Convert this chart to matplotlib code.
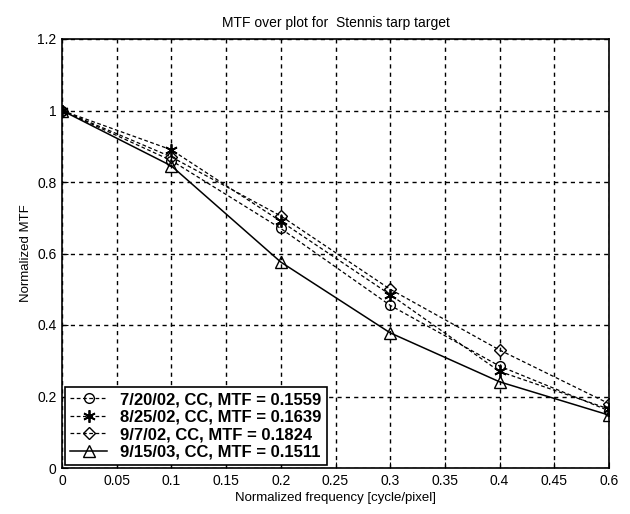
import matplotlib
matplotlib.use('Agg')
import matplotlib.pyplot as plt

plt.rcParams['font.family'] = ['Liberation Sans', 'DejaVu Sans']

freq = [0, 0.1, 0.2, 0.3, 0.4, 0.5]
mtf_0720 = [1.0, 0.86, 0.67, 0.455, 0.285, 0.16]
mtf_0825 = [1.0, 0.89, 0.69, 0.485, 0.27, 0.165]
mtf_0907 = [1.0, 0.87, 0.705, 0.50, 0.33, 0.18]
mtf_0915 = [1.0, 0.845, 0.576, 0.378, 0.241, 0.148]

labels = ['7/20/02, CC, MTF = 0.1559',
          '8/25/02, CC, MTF = 0.1639',
          '9/7/02, CC, MTF = 0.1824',
          '9/15/03, CC, MTF = 0.1511']

xticks = [0, 0.05, 0.1, 0.15, 0.2, 0.25, 0.3, 0.35, 0.4, 0.45, 0.5]
xticklabels = ['0', '0.05', '0.1', '0.15', '0.2', '0.25', '0.3', '0.35', '0.4', '0.45', '0.6']
yticks = [0, 0.2, 0.4, 0.6, 0.8, 1, 1.2]
yticklabels = ['0', '0.2', '0.4', '0.6', '0.8', '1', '1.2']

fig = plt.figure(figsize=(6.3, 5.14), dpi=100)
ax = fig.add_axes([62/630, 1 - 468/514, 547/630, 429/514])

dash = (0, (3, 2))
ax.plot(freq, mtf_0720, color='k', ls=dash, lw=0.9, marker='o', ms=7, mfc='none', mew=1, label=labels[0])
ax.plot(freq, mtf_0825, color='k', ls=dash, lw=0.9, marker=(6, 2, 0), ms=9, mfc='none', mew=1.3, label=labels[1])
ax.plot(freq, mtf_0907, color='k', ls=dash, lw=0.9, marker='D', ms=6, mfc='none', mew=1, label=labels[2])
ax.plot(freq, mtf_0915, color='k', ls='-', lw=1.1, marker='^', ms=8, mfc='none', mew=1, label=labels[3])

ax.set_xlim(0, 0.5)
ax.set_ylim(0, 1.2)
ax.set_xticks(xticks)
ax.set_xticklabels(xticklabels)
ax.set_yticks(yticks)
ax.set_yticklabels(yticklabels)
ax.tick_params(labelsize=10, direction='in', length=4, pad=4)
ax.grid(True, color='k', linestyle=(0, (3, 3)), linewidth=1)
for s in ax.spines.values():
    s.set_linewidth(1.2)

ax.set_xlabel('Normalized frequency [cycle/pixel]', fontsize=9.5, labelpad=3)
ax.set_ylabel('Normalized MTF', fontsize=9.5)
ax.set_title('MTF over plot for  Stennis tarp target', fontsize=10, pad=9)

leg = ax.legend(loc='lower left', prop={'weight': 'bold', 'size': 12}, fancybox=False,
                edgecolor='k', framealpha=1, borderaxespad=0.2, handlelength=2.2,
                labelspacing=0.15, borderpad=0.3)
leg.get_frame().set_linewidth(1.2)

fig.savefig('out.png', dpi=100)
